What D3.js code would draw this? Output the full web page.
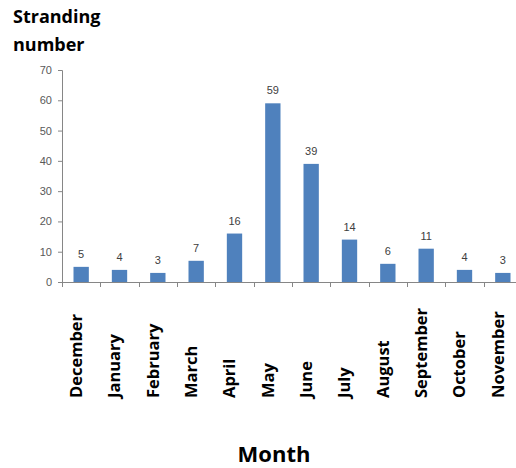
<!DOCTYPE html>
<html>
<head>
<meta charset="utf-8">
<script src="https://cdn.jsdelivr.net/npm/d3@7"></script>
<style>
  html, body { margin: 0; padding: 0; background: #fff; }
  svg { display: block; }
</style>
</head>
<body>
<svg id="chart" width="516" height="468"></svg>
<script>
// Monthly stranding counts
const months = ["December", "January", "February", "March", "April", "May",
                "June", "July", "August", "September", "October", "November"];
const strandings = [5, 4, 3, 7, 16, 59, 39, 14, 6, 11, 4, 3];
const yTicks = [0, 10, 20, 30, 40, 50, 60, 70];

const svg = d3.select("#chart");
const plotLeft = 62, plotRight = 522, plotTop = 70, plotBottom = 282;

const x = d3.scaleBand().domain(months).range([plotLeft, plotRight]).paddingInner(0.6).paddingOuter(0.3);
const y = d3.scaleLinear().domain([0, 70]).range([plotBottom, plotTop]);

const axisColor = "#868686";
const labelFont = "Arial, 'Liberation Sans', sans-serif";
const boldFont = "'Open Sans', 'Noto Sans', sans-serif";

// Y axis
const yAxis = svg.append("g")
  .attr("transform", `translate(${plotLeft},0)`)
  .call(d3.axisLeft(y).tickValues(yTicks).tickSize(4).tickPadding(6));
yAxis.select(".domain").attr("stroke", axisColor);
yAxis.selectAll(".tick line").attr("stroke", axisColor);
yAxis.selectAll(".tick text")
  .attr("fill", "#595959")
  .style("font-family", labelFont)
  .style("font-size", "11px");

// X axis: baseline plus tick marks between categories
const bandStep = x.step();
const boundaries = d3.range(months.length + 1).map(i => plotLeft + i * bandStep);
svg.append("line")
  .attr("x1", plotLeft).attr("x2", plotRight)
  .attr("y1", plotBottom + 0.5).attr("y2", plotBottom + 0.5)
  .attr("stroke", axisColor);
svg.append("g").selectAll("line")
  .data(boundaries)
  .join("line")
  .attr("x1", d => Math.round(d) + 0.5).attr("x2", d => Math.round(d) + 0.5)
  .attr("y1", plotBottom).attr("y2", plotBottom + 5)
  .attr("stroke", axisColor);

// Bars
svg.append("g").selectAll("rect")
  .data(months)
  .join("rect")
  .attr("x", (m) => x(m))
  .attr("width", x.bandwidth())
  .attr("y", (m, i) => y(strandings[i]))
  .attr("height", (m, i) => y(0) - y(strandings[i]))
  .attr("fill", "#4F81BD");

// Value labels
svg.append("g").selectAll("text")
  .data(months)
  .join("text")
  .attr("x", m => x(m) + x.bandwidth() / 2)
  .attr("y", (m, i) => y(strandings[i]) - 9)
  .attr("text-anchor", "middle")
  .attr("fill", "#404040")
  .style("font-family", labelFont)
  .style("font-size", "11px")
  .text((m, i) => strandings[i]);

// Month labels, rotated
svg.append("g").selectAll("text")
  .data(months)
  .join("text")
  .attr("transform", m => `translate(${x(m) + x.bandwidth() / 2 - 5},398) rotate(-90)`)
  .attr("dy", "0.35em")
  .attr("text-anchor", "start")
  .attr("fill", "#000")
  .style("font-family", boldFont)
  .style("font-weight", "bold")
  .style("font-size", "16.5px")
  .text(m => m);

// Axis titles
const yTitle = svg.append("text")
  .attr("fill", "#000")
  .style("font-family", boldFont)
  .style("font-weight", "bold")
  .style("font-size", "18px");
yTitle.append("tspan").attr("x", 13).attr("y", 23).text("Stranding");
yTitle.append("tspan").attr("x", 13).attr("y", 51).text("number");

svg.append("text")
  .attr("x", 274).attr("y", 462)
  .attr("text-anchor", "middle")
  .attr("fill", "#000")
  .style("font-family", boldFont)
  .style("font-weight", "bold")
  .style("font-size", "22px")
  .text("Month");
</script>
</body>
</html>
